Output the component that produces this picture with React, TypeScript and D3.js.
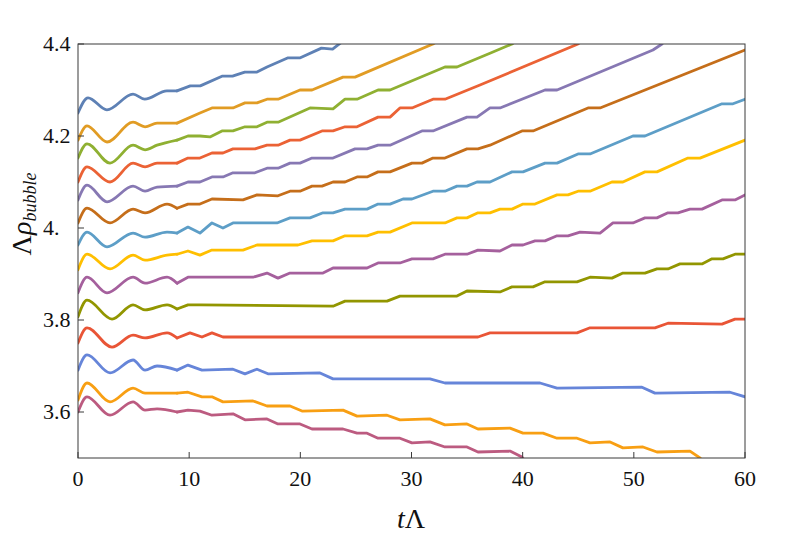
import React from "react";
import * as d3 from "d3";

type P = [number, number];

const xTicks = [0, 10, 20, 30, 40, 50, 60];
const xTickLabels = ["0", "10", "20", "30", "40", "50", "60"];
const yTicks = [3.6, 3.8, 4.0, 4.2, 4.4];
const yTickLabels = ["3.6", "3.8", "4.", "4.2", "4.4"];

const colors = [
  "#5E81B5", "#E19C24", "#8FB032", "#EB6235", "#8778B3", "#C56E1A", "#5D9EC7",
  "#FFBF00", "#A5609D", "#929600", "#E95536", "#6685D9", "#F89F13", "#BC5B80",
];

const s1: P[] = [[0,4.25],[0.9,4.283],[2.6,4.257],[4.95,4.291],[6.0,4.28],[8.0,4.298],[8.9,4.298],[10.1,4.309],[11.0,4.309],[12.95,4.33],[13.9,4.33],[15.0,4.339],[16.1,4.339],[17.0,4.35],[18.9,4.37],[20.0,4.37],[21.9,4.391],[22.9,4.389],[23.6,4.402],[24.0,4.41]];
const s2: P[] = [[0,4.191],[0.81,4.222],[2.61,4.187],[4.95,4.23],[6.03,4.22],[7.11,4.228],[8.91,4.228],[10.97,4.25],[12.05,4.261],[13.94,4.261],[15.02,4.272],[16.1,4.272],[17.0,4.28],[18.0,4.28],[19.97,4.3],[21.05,4.3],[23.84,4.328],[24.92,4.328],[31.93,4.4],[32.6,4.41]];
const s3: P[] = [[0,4.152],[0.81,4.183],[2.88,4.141],[4.95,4.18],[6.03,4.17],[7.11,4.18],[8.91,4.191],[9.89,4.2],[10.97,4.2],[11.87,4.198],[12.95,4.211],[13.94,4.211],[15.02,4.22],[16.1,4.22],[17.0,4.23],[18.0,4.23],[20.87,4.261],[22.94,4.259],[24.02,4.28],[25.1,4.28],[26.99,4.3],[28.07,4.3],[33.01,4.35],[34.09,4.35],[37.06,4.38],[39.04,4.4],[39.6,4.41]];
const s4: P[] = [[0,4.1],[0.81,4.133],[2.88,4.1],[4.95,4.141],[6.03,4.133],[7.11,4.141],[8.91,4.141],[9.89,4.152],[10.97,4.152],[12.05,4.163],[13.04,4.163],[13.94,4.172],[15.92,4.172],[17.0,4.18],[18.0,4.18],[19.07,4.191],[19.97,4.191],[21.95,4.211],[22.94,4.211],[24.02,4.22],[25.1,4.22],[26.99,4.241],[28.07,4.241],[28.96,4.261],[30.04,4.261],[31.93,4.28],[33.01,4.28],[36.16,4.311],[44.98,4.4],[45.5,4.41]];
const s5: P[] = [[0,4.061],[0.81,4.093],[2.61,4.057],[4.95,4.091],[6.03,4.08],[7.11,4.089],[8.91,4.091],[9.89,4.1],[10.97,4.1],[12.05,4.111],[13.04,4.111],[13.94,4.12],[15.92,4.12],[17.0,4.13],[18.0,4.13],[19.07,4.141],[19.97,4.141],[21.05,4.152],[22.94,4.152],[24.92,4.172],[26.0,4.172],[26.99,4.18],[28.07,4.18],[30.94,4.211],[31.93,4.211],[34.99,4.241],[35.89,4.241],[37.06,4.261],[37.96,4.261],[42.01,4.3],[43.09,4.3],[51.72,4.387],[52.53,4.4],[52.9,4.41]];
const s6: P[] = [[0,4.011],[0.81,4.043],[2.88,4.011],[4.95,4.041],[6.03,4.033],[8.01,4.052],[8.91,4.043],[9.89,4.052],[10.97,4.052],[12.05,4.063],[14.84,4.061],[16.1,4.072],[17.99,4.07],[19.07,4.08],[19.97,4.08],[21.05,4.091],[21.95,4.091],[22.94,4.1],[24.02,4.1],[25.1,4.111],[26.0,4.111],[26.99,4.122],[28.07,4.122],[30.04,4.141],[30.94,4.141],[31.93,4.152],[33.01,4.152],[34.99,4.172],[35.98,4.172],[37.06,4.18],[39.94,4.211],[40.93,4.211],[45.88,4.261],[46.96,4.261],[60,4.387]];
const s7: P[] = [[0,3.963],[0.81,3.991],[2.61,3.959],[4.95,3.989],[6.03,3.98],[8.01,3.991],[8.91,3.989],[9.89,4.002],[10.97,3.989],[12.05,4.011],[13.04,4.0],[13.94,4.011],[17.9,4.011],[19.07,4.022],[20.87,4.022],[22.04,4.033],[22.94,4.033],[24.02,4.041],[26.0,4.041],[26.99,4.052],[28.07,4.052],[29.24,4.063],[30.04,4.063],[31.93,4.08],[33.01,4.08],[34.09,4.091],[34.99,4.091],[35.89,4.1],[37.06,4.1],[39.04,4.122],[40.03,4.122],[42.01,4.141],[43.09,4.141],[44.98,4.161],[46.06,4.161],[49.92,4.2],[51.0,4.2],[57.93,4.27],[58.92,4.27],[60,4.28]];
const s8: P[] = [[0,3.909],[0.81,3.943],[2.88,3.911],[4.95,3.941],[6.03,3.93],[8.01,3.941],[8.91,3.943],[9.89,3.95],[10.97,3.941],[12.05,3.952],[14.84,3.952],[16.1,3.963],[19.79,3.963],[21.05,3.972],[22.94,3.972],[24.02,3.983],[26.0,3.983],[26.99,3.991],[28.07,3.991],[30.04,4.011],[33.01,4.011],[34.09,4.022],[34.99,4.022],[35.98,4.033],[37.06,4.033],[37.96,4.041],[39.04,4.041],[40.03,4.052],[41.11,4.052],[43.09,4.072],[44.08,4.072],[44.98,4.08],[46.06,4.08],[48.03,4.1],[49.02,4.1],[51.0,4.122],[52.08,4.122],[54.87,4.152],[55.95,4.152],[60,4.191]];
const s9: P[] = [[0,3.859],[0.81,3.893],[2.61,3.859],[4.95,3.893],[6.03,3.88],[8.01,3.893],[8.91,3.88],[9.89,3.893],[15.74,3.893],[17.0,3.902],[17.99,3.891],[19.07,3.902],[22.04,3.902],[22.94,3.913],[26.0,3.913],[26.99,3.924],[28.96,3.924],[30.04,3.933],[31.93,3.933],[33.01,3.943],[34.99,3.943],[35.98,3.952],[37.96,3.95],[39.04,3.963],[40.03,3.963],[41.11,3.972],[42.01,3.972],[43.09,3.983],[44.08,3.983],[45.16,3.991],[46.96,3.989],[48.12,4.011],[49.92,4.011],[51.0,4.022],[52.08,4.022],[53.07,4.033],[53.97,4.033],[55.05,4.041],[56.13,4.041],[57.93,4.061],[59.1,4.061],[60,4.072]];
const s10: P[] = [[0,3.807],[0.81,3.843],[3.06,3.802],[4.95,3.833],[6.03,3.822],[8.01,3.833],[8.91,3.824],[9.89,3.833],[10.97,3.833],[22.94,3.83],[24.02,3.841],[27.8,3.841],[28.96,3.852],[34.09,3.852],[34.99,3.863],[37.96,3.861],[39.04,3.872],[40.93,3.872],[42.01,3.883],[44.89,3.883],[46.06,3.893],[48.03,3.891],[49.02,3.902],[51.0,3.902],[52.08,3.911],[53.07,3.911],[54.15,3.922],[56.13,3.922],[57.03,3.933],[58.02,3.933],[59.1,3.943],[60,3.943]];
const s11: P[] = [[0,3.75],[0.81,3.783],[3.06,3.741],[4.95,3.767],[6.03,3.761],[8.01,3.772],[8.91,3.761],[10.07,3.772],[11.15,3.763],[12.05,3.772],[13.04,3.763],[35.98,3.763],[37.06,3.772],[44.89,3.772],[46.06,3.783],[51.9,3.783],[53.07,3.793],[57.93,3.791],[59.1,3.802],[60,3.802]];
const s12: P[] = [[0,3.691],[0.81,3.724],[2.88,3.685],[4.95,3.713],[6.03,3.691],[7.11,3.7],[8.91,3.691],[9.89,3.702],[11.15,3.691],[13.94,3.693],[15.02,3.683],[16.1,3.693],[17.09,3.683],[21.77,3.685],[22.94,3.672],[31.66,3.672],[33.01,3.663],[41.56,3.663],[43.09,3.652],[50.73,3.654],[51.9,3.641],[58.65,3.643],[60,3.633]];
const s13: P[] = [[0,3.626],[0.81,3.663],[2.88,3.622],[4.95,3.652],[6.03,3.641],[8.91,3.641],[9.89,3.643],[11.15,3.633],[12.05,3.633],[13.04,3.622],[15.74,3.624],[17.0,3.613],[19.07,3.613],[20.15,3.602],[23.84,3.604],[25.1,3.591],[27.8,3.593],[28.96,3.583],[31.66,3.585],[33.01,3.572],[34.99,3.574],[35.98,3.563],[38.86,3.565],[40.03,3.554],[41.83,3.554],[43.09,3.543],[44.89,3.543],[46.06,3.533],[47.86,3.535],[49.02,3.522],[50.82,3.524],[52.08,3.513],[55.05,3.515],[55.95,3.5],[56.4,3.49]];
const s14: P[] = [[0,3.6],[0.81,3.633],[2.88,3.593],[4.95,3.622],[6.03,3.604],[7.11,3.607],[8.91,3.6],[9.89,3.604],[10.97,3.602],[12.05,3.593],[13.94,3.596],[15.02,3.583],[17.0,3.585],[17.99,3.574],[19.97,3.574],[21.05,3.563],[23.84,3.563],[25.1,3.554],[26.0,3.554],[26.99,3.543],[28.96,3.543],[30.04,3.533],[31.66,3.535],[33.01,3.524],[34.99,3.524],[35.98,3.513],[38.86,3.515],[39.94,3.502],[40.3,3.49]];

const seriesList = [s1, s2, s3, s4, s5, s6, s7, s8, s9, s10, s11, s12, s13, s14];

// early (oscillating) part is drawn smooth, later stair part as straight segments
const SMOOTH_UNTIL = 9;

const FONT = "'Liberation Serif', 'DejaVu Serif', serif";

export default function App() {
  const W = 789;
  const H = 541;
  const left = 78, right = 745, top = 44, bottom = 458;
  const x = d3.scaleLinear().domain([0, 60]).range([left, right]);
  const y = d3.scaleLinear().domain([3.5, 4.4]).range([bottom, top]);
  const smooth = d3
    .line<P>()
    .x((d) => x(d[0]))
    .y((d) => y(d[1]))
    .curve(d3.curveMonotoneX);
  const straight = d3
    .line<P>()
    .x((d) => x(d[0]))
    .y((d) => y(d[1]))
    .curve(d3.curveLinear);

  return (
    <div style={{ position: "fixed", left: 0, top: 0, width: W, height: H, background: "#fff" }}>
      <svg width={W} height={H} style={{ display: "block" }}>
        <defs>
          <clipPath id="plotClip">
            <rect x={left} y={top} width={right - left} height={bottom - top} />
          </clipPath>
        </defs>
        <g clipPath="url(#plotClip)">
          {seriesList.map((s, i) => {
            const k = s.findIndex((p) => p[0] > SMOOTH_UNTIL);
            const a = s.slice(0, k);
            const b = s.slice(k - 1);
            return (
              <g key={i} fill="none" stroke={colors[i]} strokeWidth={2.8} strokeLinejoin="round" strokeLinecap="round">
                <path d={smooth(a) || ""} />
                <path d={straight(b) || ""} />
              </g>
            );
          })}
        </g>
        <rect x={left} y={top} width={right - left} height={bottom - top} fill="none" stroke="#3a3a3a" strokeWidth={1} />
        {xTicks.map((t, i) => (
          <g key={"xt" + i}>
            <line x1={x(t)} x2={x(t)} y1={bottom} y2={bottom - 6} stroke="#3a3a3a" strokeWidth={1} />
            <text x={x(t)} y={486} fontFamily={FONT} fontSize={22} textAnchor="middle" fill="#111">
              {xTickLabels[i]}
            </text>
          </g>
        ))}
        {yTicks.map((t, i) => (
          <g key={"yt" + i}>
            <line x1={left} x2={left + 6} y1={y(t)} y2={y(t)} stroke="#3a3a3a" strokeWidth={1} />
            <text x={43} y={y(t) + 7} fontFamily={FONT} fontSize={22} textAnchor="start" fill="#111">
              {yTickLabels[i]}
            </text>
          </g>
        ))}
        <text x={411} y={528} fontFamily={FONT} fontSize={28} textAnchor="middle" fill="#111">
          <tspan fontStyle="italic">t</tspan>
          <tspan>Λ</tspan>
        </text>
        <text
          transform="translate(31,214) rotate(-90)"
          fontFamily={FONT}
          fontSize={28}
          textAnchor="middle"
          fill="#111"
        >
          <tspan>Λ</tspan>
          <tspan fontStyle="italic">ρ</tspan>
          <tspan fontStyle="italic" fontSize={18} dy={5}>bubble</tspan>
        </text>
      </svg>
    </div>
  );
}
